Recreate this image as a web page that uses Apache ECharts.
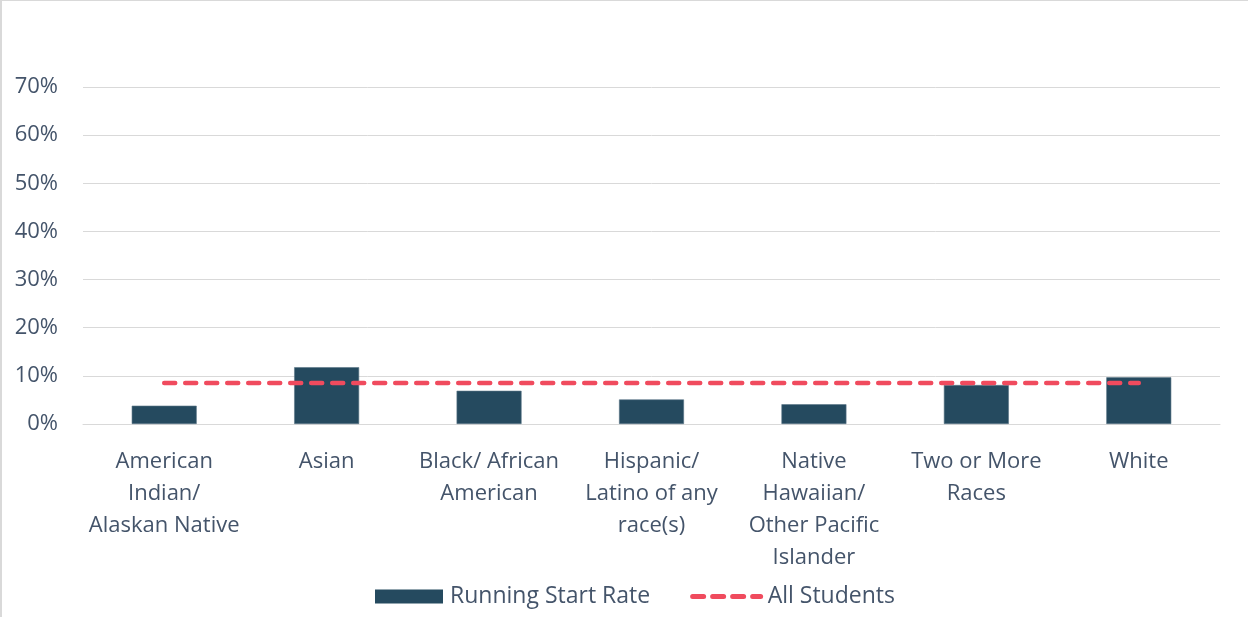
<!DOCTYPE html>
<html>
<head>
<meta charset="utf-8">
<script src="https://cdn.jsdelivr.net/npm/echarts@6/dist/echarts.min.js"></script>
<style>
html,body{margin:0;padding:0;background:#fff;}
#frame{position:absolute;left:0;top:0;width:1248px;height:617px;border-left:2px solid #d9d9d9;border-top:1px solid #d9d9d9;box-sizing:border-box;}
#chart{position:absolute;left:0;top:0;width:1250px;height:617px;}
</style>
</head>
<body>
<div id="frame"></div>
<div id="chart"></div>
<script>
const categories = [
  "American\nIndian/\nAlaskan Native",
  "Asian",
  "Black/ African\nAmerican",
  "Hispanic/\nLatino of any\nrace(s)",
  "Native\nHawaiian/\nOther Pacific\nIslander",
  "Two or More\nRaces",
  "White"
];
const runningStartRate = [3.8, 11.8, 6.9, 5.1, 4.1, 8.1, 9.7];
const allStudents = [8.5, 8.5, 8.5, 8.5, 8.5, 8.5, 8.5];
const yTicks = { min: 0, max: 70, interval: 10 };

const textColor = '#44546a';
const red = '#f04b5e';
const font = '"Open Sans", "Noto Sans", sans-serif';
const chart = echarts.init(document.getElementById('chart'));
chart.setOption({
  animation: false,
  textStyle: { fontFamily: font },
  grid: { left: 83, right: 30, top: 87, bottom: 193, containLabel: false },
  legend: {
    bottom: 4,
    left: 370,
    itemGap: 40,
    itemWidth: 68,
    itemHeight: 14,
    textStyle: { color: textColor, fontSize: 23, fontFamily: font, padding: [0, 0, 0, 2] },
    data: [
      { name: 'Running Start Rate', icon: 'rect', itemStyle: { borderWidth: 0 } },
      { name: 'All Students', itemStyle: { opacity: 0 },
        lineStyle: { color: red, width: 5, type: [11, 9], cap: 'round' } }
    ]
  },
  xAxis: {
    type: 'category',
    data: categories,
    axisLine: { show: true, lineStyle: { color: '#d9d9d9', width: 1 } },
    axisTick: { show: false },
    axisLabel: { color: textColor, fontSize: 22, lineHeight: 32, margin: 22, interval: 0, fontFamily: font }
  },
  yAxis: {
    type: 'value',
    min: yTicks.min, max: yTicks.max, interval: yTicks.interval,
    axisLine: { show: false },
    axisTick: { show: false },
    axisLabel: { color: textColor, fontSize: 22, margin: 25, formatter: '{value}%', fontFamily: font },
    splitLine: { lineStyle: { color: '#d9d9d9', width: 1 } }
  },
  series: [
    {
      name: 'Running Start Rate',
      type: 'bar',
      data: runningStartRate,
      barWidth: '40%',
      itemStyle: { color: '#254a5f', borderColor: '#5a7687', borderWidth: 0.6 }
    },
    {
      name: 'All Students',
      type: 'line',
      data: allStudents,
      symbol: 'none',
      showSymbol: false,
      lineStyle: { color: red, width: 4.5, type: [11, 10], cap: 'round' },
      itemStyle: { color: red },
      z: 5
    }
  ]
});
</script>
</body>
</html>
